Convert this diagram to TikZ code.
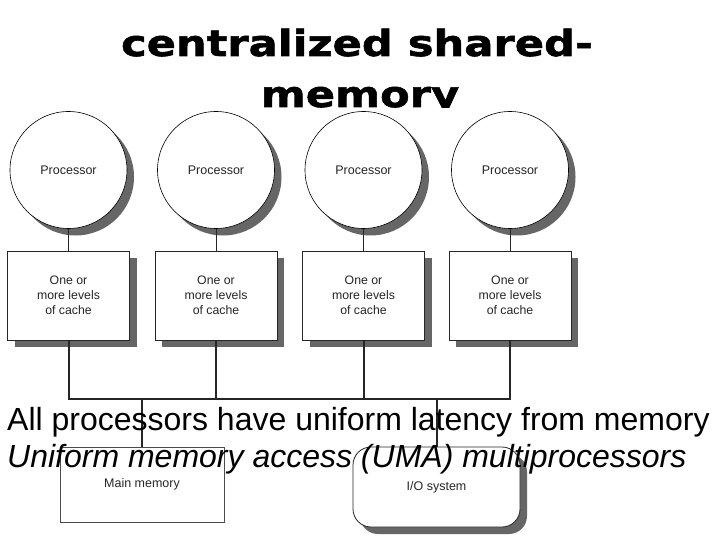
\documentclass[tikz,border=0pt]{standalone}
\usepackage{fontspec}
\setmainfont{Liberation Sans}
\newfontfamily\titlefont{DejaVu Sans}[FakeStretch=1.2, BoldFeatures={FakeBold=1.6}]
\usepackage{tikz}
\usetikzlibrary{shadows,positioning,calc}

\begin{document}
\begin{tikzpicture}[
    x=1pt, y=-1pt,
    titletext/.style={font=\titlefont\bfseries\fontsize{36}{40}\selectfont, anchor=base},
    bodytext/.style={font=\fontsize{32}{38}\selectfont, anchor=base west, inner sep=0pt},
    graybox shadow/.style={drop shadow={shadow xshift=7pt, shadow yshift=-7pt, fill=black!60, opacity=1}},
    procnode/.style={circle, draw=black, line width=0.6pt, fill=white, minimum size=117pt, inner sep=0pt,
        font=\fontsize{12.5}{14}\selectfont, text=black!85, graybox shadow},
    cachenode/.style={rectangle, draw=black!85, line width=0.8pt, fill=white, minimum width=122pt, minimum height=89pt,
        align=center, font=\fontsize{12.3}{15}\selectfont, text=black!85, graybox shadow},
    memnode/.style={rectangle, draw=black!70, line width=0.6pt, fill=white, minimum width=164pt, minimum height=75pt,
        font=\fontsize{12.5}{14}\selectfont, text=black!85},
    ionode/.style={rectangle, rounded corners=18pt, draw=black!85, line width=0.8pt, fill=white, minimum width=167pt,
        minimum height=80pt, font=\fontsize{12.5}{14}\selectfont, text=black!85, graybox shadow},
    thinline/.style={draw=black!85, line width=0.8pt},
    busline/.style={draw=black!85, line width=2pt},
]
\useasboundingbox (0,0) rectangle (720,540);
\fill[white] (0,0) rectangle (720,540);

% title
\node[titletext] (title1) at (357,56) {centralized shared-};
\node[titletext] (title2) at (360,107) {memory};
\fill[white] (0,108) rectangle (720,540);

% processors and caches
\foreach \i/\x in {1/68.5,2/216,3/363.5,4/510} {
  \node[procnode] (proc\i) at (\x,170) {Processor};
  \node[cachenode] (cache\i) at (\x,295.5) {One or\\more levels\\of cache};
  \draw[thinline] (proc\i.south) -- (cache\i.north);
}

% memory and I/O
\node[memnode] (mainmem) at (142,484.5) {Main memory};
\node[ionode] (iosys) at (436.5,487) {I/O system};

% bus
\coordinate (bus) at (0,399);
\draw[busline] (cache1.south) -- (cache1.south |- bus) -- (cache4.south |- bus) -- (cache4.south);
\draw[busline] (cache2.south) -- (cache2.south |- bus);
\draw[busline] (cache3.south) -- (cache3.south |- bus);
\draw[busline] (mainmem.north) -- (mainmem.north |- bus);
\draw[busline] (iosys.north) -- (iosys.north |- bus);

% text over the figure
\node[bodytext] (line1) at (7,430) {All processors have uniform latency from memory};
\node[bodytext] (line2) at (7,467) {\itshape Uniform memory access (UMA) multiprocessors};
\end{tikzpicture}
\end{document}
